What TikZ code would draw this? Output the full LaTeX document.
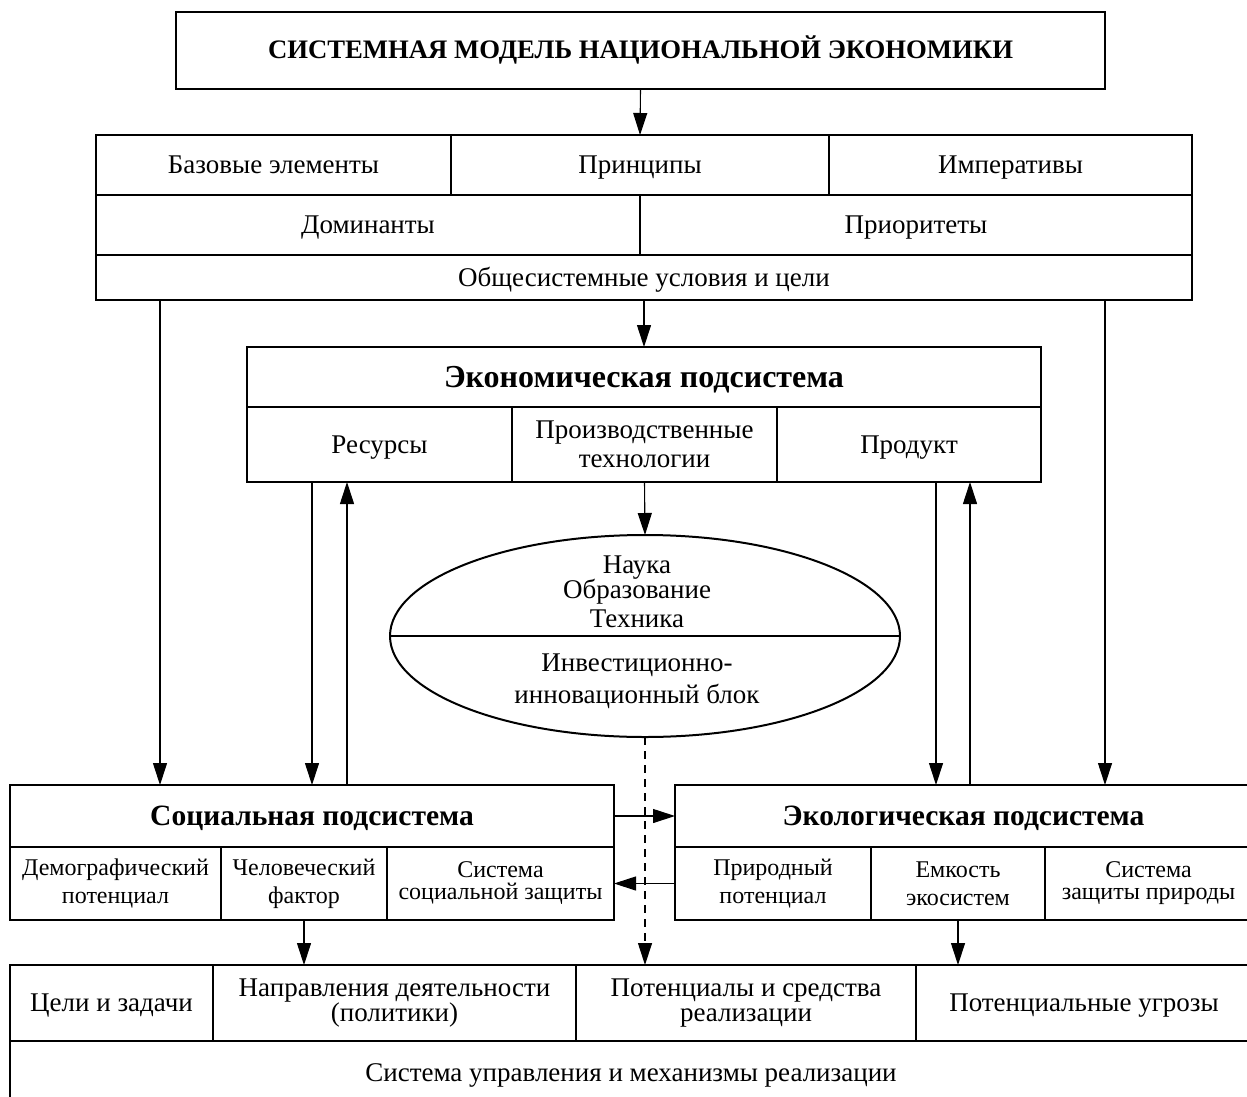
\documentclass[tikz,border=0pt]{standalone}
\usepackage{fontspec}
\setmainfont{Liberation Serif}
\usetikzlibrary{shapes.geometric, arrows.meta, calc}

\begin{document}
\begin{tikzpicture} [x = 1pt, y = -1pt, -> , >= {Triangle[length=22pt, width=14pt]}, line width = 1.1pt,
  font = \fontsize{27}{29}\selectfont,
  cell/.style = {draw, -, line width = 2pt, anchor = north west, inner sep = 0pt, outer sep = 0pt, align = center},
  one/.style = {text height = 21pt, text depth = 4pt},
  small/.style = {font = \fontsize{24}{28}\selectfont},
  head/.style = {cell, text height = 22pt, text depth = 4pt, font = \fontsize{29.5}{32}\selectfont\bfseries}]

\clip (0,0) rectangle (1247,1097);

% title
\node [cell, one, minimum width = 929pt, minimum height = 77pt, font = \fontsize{26.7}{29}\selectfont\bfseries] (title) at (176,12) {СИСТЕМНАЯ МОДЕЛЬ НАЦИОНАЛЬНОЙ ЭКОНОМИКИ};

% general conditions
\node [cell, one, minimum width = 355pt, minimum height = 60pt] (base) at (96,135) {Базовые элементы};
\node [cell, one, minimum width = 378pt, minimum height = 60pt] (princ) at (451,135) {Принципы};
\node [cell, one, minimum width = 363pt, minimum height = 60pt] (imper) at (829,135) {Императивы};
\node [cell, one, minimum width = 544pt, minimum height = 60pt] (domin) at (96,195) {Доминанты};
\node [cell, one, minimum width = 552pt, minimum height = 60pt] (prior) at (640,195) {Приоритеты};
\node [cell, one, minimum width = 1096pt, minimum height = 45pt] (uslov) at (96,255) {Общесистемные условия и цели};

% economic subsystem
\node [head, minimum width = 794pt, minimum height = 60pt, text height = 24pt, font = \fontsize{32}{34}\selectfont\bfseries] (econ) at (247,347) {Экономическая подсистема};
\node [cell, one, minimum width = 265pt, minimum height = 75pt] (resurs) at (247,407) {Ресурсы};
\node [cell, minimum width = 265pt, minimum height = 75pt] (tech) at (512,407) {Производственные\\технологии};
\node [cell, one, minimum width = 264pt, minimum height = 75pt] (produkt) at (777,407) {Продукт};

% investment block
\node [draw, ellipse, line width = 2pt, minimum width = 510pt, minimum height = 202pt, outer sep = 0pt] (blok) at (645,636) {};
\draw [-, line width = 2pt] (blok.west) -- (blok.east);
\node [align = center] (nauka) at (637,592) {Наука\\[-4pt]Образование\\Техника};
\node [align = center] (invest) at (637,681) {Инвестиционно-\\[3pt]инновационный блок};

% social subsystem
\node [head, minimum width = 604pt, minimum height = 62pt] (soc) at (10,785) {Социальная подсистема};
\node [cell, small, minimum width = 211pt, minimum height = 73pt] (demo) at (10,847) {Демографический\\потенциал};
\node [cell, small, minimum width = 166pt, minimum height = 73pt] (chel) at (221,847) {Человеческий\\фактор};
\node [cell, minimum width = 227pt, minimum height = 73pt, font = \fontsize{24}{22}\selectfont] (szash) at (387,847) {Система\\социальной защиты};

% ecological subsystem
\node [head, minimum width = 577pt, minimum height = 62pt] (eco) at (675,785) {Экологическая подсистема};
\node [cell, small, minimum width = 196pt, minimum height = 73pt] (prir) at (675,847) {Природный\\потенциал};
\node [cell, small, minimum width = 174pt, minimum height = 73pt] (emk) at (871,847) {Емкость\\экосистем};
\node [cell, minimum width = 207pt, minimum height = 73pt, font = \fontsize{24}{22}\selectfont] (zprir) at (1045,847) {Система\\защиты природы};

% management
\node [cell, one, minimum width = 203pt, minimum height = 76pt] (celi) at (10,965) {Цели и задачи};
\node [cell, minimum width = 363pt, minimum height = 76pt, font = \fontsize{27}{25}\selectfont] (napr) at (213,965) {Направления деятельности\\(политики)};
\node [cell, minimum width = 340pt, minimum height = 76pt, font = \fontsize{27}{25}\selectfont] (potent) at (576,965) {Потенциалы и средства\\реализации};
\node [cell, one, minimum width = 336pt, minimum height = 76pt] (ugroz) at (916,965) {Потенциальные угрозы};
\node [cell, one, minimum width = 1242pt, minimum height = 64pt] (uprav) at (10,1041) {Система управления и механизмы реализации};

\draw (title.south) -- (princ.north);
\draw (uslov.south) -- (econ.north);
\draw (tech.south) -- (blok.north);
\draw [dashed, dash pattern = on 8pt off 6pt] (blok.south) -- (blok.south |- potent.north);

\draw ([xshift = 64pt]uslov.south west) -- ([xshift = 150pt]soc.north west);
\draw ([xshift = -87pt]uslov.south east) -- ([xshift = 430pt]eco.north west);

\draw ([xshift = 65pt]resurs.south west) -- ([xshift = 302pt]soc.north west);
\draw ([xshift = 337pt]soc.north west) -- ([xshift = 100pt]resurs.south west);
\draw ([xshift = 159pt]produkt.south west) -- ([xshift = 261pt]eco.north west);
\draw ([xshift = 295pt]eco.north west) -- ([xshift = 193pt]produkt.south west);

\draw (soc.east) -- (eco.west);
\draw (prir.west) -- (szash.east);

\draw (chel.south) -- (chel.south |- napr.north);
\draw (emk.south) -- (emk.south |- potent.north);

\end{tikzpicture}
\end{document}
